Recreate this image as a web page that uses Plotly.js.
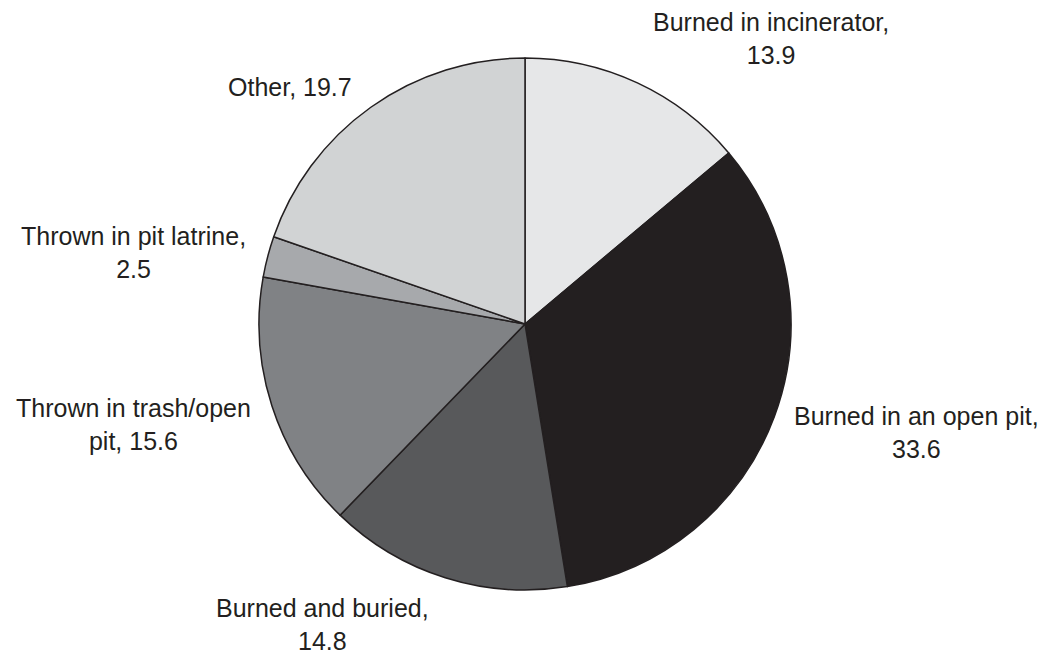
<!DOCTYPE html>
<html>
<head>
<meta charset="utf-8">
<script src="https://cdn.plot.ly/plotly-3.0.1.min.js"></script>
<style>html,body{margin:0;padding:0;background:#fff;}#chart{width:1051px;height:658px;}</style>
</head>
<body>
<div id="chart"></div>
<script>
const categories = ["Burned in incinerator", "Burned in an open pit", "Burned and buried", "Thrown in trash/open pit", "Thrown in pit latrine", "Other"];
const values = [13.9, 33.6, 14.8, 15.6, 2.5, 19.7];
const colors = ["#e6e7e8", "#231f20", "#58595b", "#808285", "#a7a9ac", "#d1d3d4"];

// label line breaks (display text)
const labelLines = [
  ["Burned in incinerator,", "{v}"],
  ["Burned in an open pit,", "{v}"],
  ["Burned and buried,", "{v}"],
  ["Thrown in trash/open", "pit, {v}"],
  ["Thrown in pit latrine,", "{v}"],
  ["Other, {v}"]
];
// label anchor positions in paper coords
const labelPos = [
  [771/1051, 1 - 38/658],
  [916/1051, 1 - 432/658],
  [322/1051, 1 - 624/658],
  [133/1051, 1 - 424/658],
  [133/1051, 1 - 253/658],
  [290/1051, 1 - 87/658]
];

const annotations = categories.map((c, i) => ({
  x: labelPos[i][0], y: labelPos[i][1], xref: "paper", yref: "paper",
  xanchor: "center", yanchor: "middle", showarrow: false, align: "center",
  text: labelLines[i].map(s => s.replace("{v}", values[i].toFixed(1))).join("<br>"),
  font: {family: "Liberation Sans, Arial, sans-serif", size: 25, color: "#231f20"}
}));

const data = [{
  type: "pie",
  labels: categories,
  values: values,
  sort: false,
  direction: "clockwise",
  rotation: 0,
  textinfo: "none",
  hoverinfo: "label+value",
  marker: {colors: colors, line: {color: "#231f20", width: 1.5}},
  domain: {x: [259/1051, 791/1051], y: [68/658, 600/658]}
}];

const layout = {
  width: 1051, height: 658,
  margin: {l: 0, r: 0, t: 0, b: 0},
  showlegend: false,
  paper_bgcolor: "#ffffff",
  annotations: annotations
};

Plotly.newPlot("chart", data, layout, {displayModeBar: false, staticPlot: true});
</script>
</body>
</html>
